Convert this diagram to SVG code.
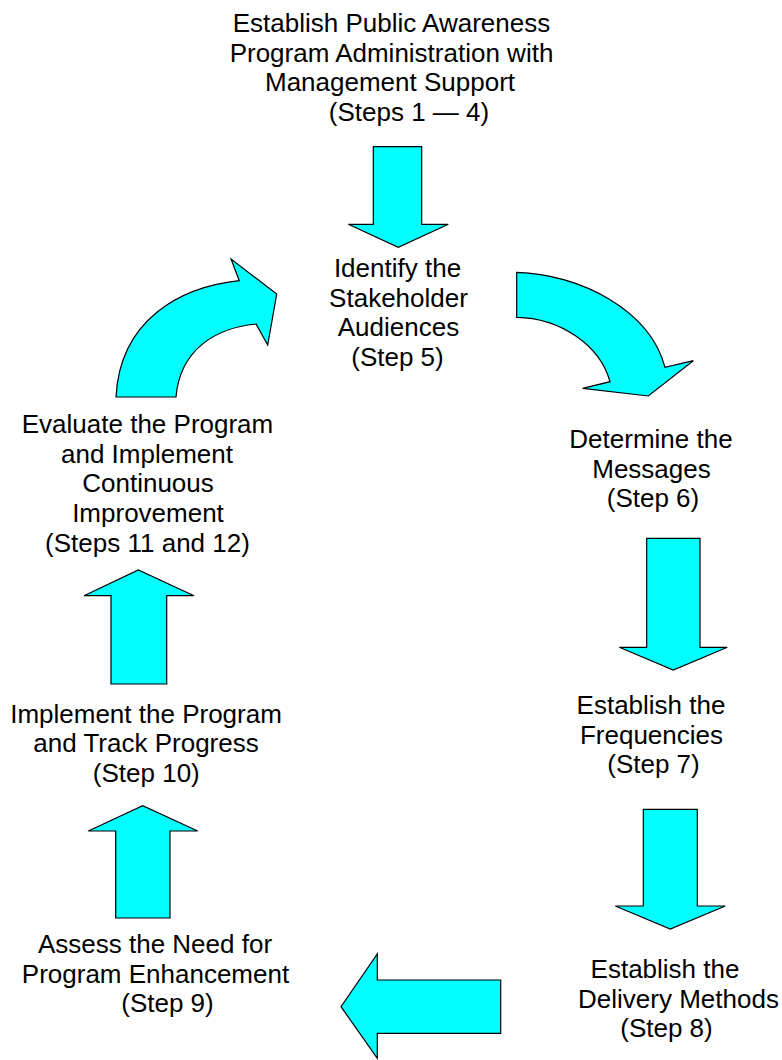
<svg xmlns="http://www.w3.org/2000/svg" width="782" height="1060" viewBox="0 0 782 1060">
  <style>
    .arrow { fill: #00ffff; stroke: #000000; stroke-width: 1.2; stroke-linejoin: miter; }
    .label { font-family: "Liberation Sans", Arial, sans-serif; font-size: 26px; fill: #000000; text-anchor: middle; }
  </style>
  <rect width="782" height="1060" fill="#ffffff"/>

  <!-- Step labels -->
  <g id="node-steps-1-4">
    <text class="label" x="391.5" y="32">Establish Public Awareness</text>
    <text class="label" x="391.5" y="61.5">Program Administration with</text>
    <text class="label" x="390" y="91">Management Support</text>
    <text class="label" x="409" y="120.5">(Steps 1 — 4)</text>
  </g>
  <g id="node-step-5">
    <text class="label" x="397.5" y="277">Identify the</text>
    <text class="label" x="398.5" y="306.5">Stakeholder</text>
    <text class="label" x="398.5" y="336">Audiences</text>
    <text class="label" x="397.5" y="365.5">(Step 5)</text>
  </g>
  <g id="node-step-6">
    <text class="label" x="651" y="448">Determine the</text>
    <text class="label" x="651.5" y="477.5">Messages</text>
    <text class="label" x="653" y="507">(Step 6)</text>
  </g>
  <g id="node-step-7">
    <text class="label" x="651" y="714">Establish the</text>
    <text class="label" x="651.5" y="743.5">Frequencies</text>
    <text class="label" x="653.5" y="773">(Step 7)</text>
  </g>
  <g id="node-step-8">
    <text class="label" x="665" y="978">Establish the</text>
    <text class="label" x="678.5" y="1007.5">Delivery Methods</text>
    <text class="label" x="666.5" y="1037">(Step 8)</text>
  </g>
  <g id="node-step-9">
    <text class="label" x="155" y="953">Assess the Need for</text>
    <text class="label" x="155.5" y="982.5">Program Enhancement</text>
    <text class="label" x="167.5" y="1012">(Step 9)</text>
  </g>
  <g id="node-step-10">
    <text class="label" x="146" y="722.5">Implement the Program</text>
    <text class="label" x="146" y="752">and Track Progress</text>
    <text class="label" x="146.3" y="781.5">(Step 10)</text>
  </g>
  <g id="node-steps-11-12">
    <text class="label" x="147.5" y="432.5">Evaluate the Program</text>
    <text class="label" x="147" y="462.5">and Implement</text>
    <text class="label" x="148" y="492">Continuous</text>
    <text class="label" x="148" y="522">Improvement</text>
    <text class="label" x="147.5" y="551.5">(Steps 11 and 12)</text>
  </g>

  <!-- Block arrows linking the steps -->
  <g id="connectors">
    <!-- Steps 1-4 down to Step 5 -->
    <path class="arrow" d="M373.3,146.7 L421.7,146.7 L421.7,224.3 L448.3,224.3 L398.3,247.3 L348.3,224.3 L373.3,224.3 Z"/>
    <!-- Step 5 curving round to Step 6 -->
    <path class="arrow" d="M516.7,272.3 C580,274 650,310 665,367.3 L693.3,360.7 L648.3,396 L582.7,388.3 L610,381.7 C600,345 560,318 516.7,317.3 Z"/>
    <!-- Step 6 down to Step 7 -->
    <path class="arrow" d="M646.7,538.3 L700,538.3 L700,647.3 L727.3,647.3 L673.3,670 L619.3,647.3 L646.7,647.3 Z"/>
    <!-- Step 7 down to Step 8 -->
    <path class="arrow" d="M643.3,809.3 L697.3,809.3 L697.3,906 L725.3,906 L670.3,929 L615.3,906 L643.3,906 Z"/>
    <!-- Step 8 across to Step 9 -->
    <path class="arrow" d="M500.7,980 L500.7,1033.3 L377.3,1033.3 L377.3,1058.3 L341,1006.7 L377.3,954 L377.3,980 Z"/>
    <!-- Step 9 up to Step 10 -->
    <path class="arrow" d="M115.7,918 L170,918 L170,831 L197.7,831 L142.7,805.7 L88.3,831 L115.7,831 Z"/>
    <!-- Step 10 up to Steps 11-12 -->
    <path class="arrow" d="M111,684 L166.7,684 L166.7,595.7 L194,595.7 L138.3,570 L84,595.7 L111,595.7 Z"/>
    <!-- Steps 11-12 curving back to Step 5 -->
    <path class="arrow" d="M116,397 L176,397 C180,350 215,328 256,324 L267.7,345 L276.7,294 L231,259 L239.3,280.7 C180,287 120,320 116,397 Z"/>
  </g>
</svg>
